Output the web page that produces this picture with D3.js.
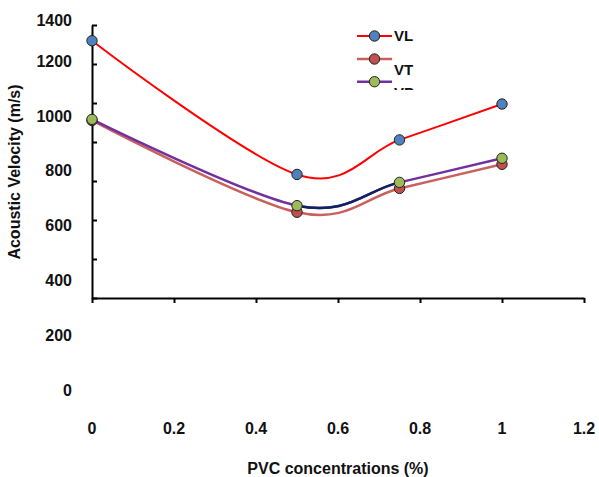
<!DOCTYPE html>
<html>
<head>
<meta charset="utf-8">
<script src="https://cdn.jsdelivr.net/npm/d3@7"></script>
<style>
  body { margin: 0; background: #fff; }
  text { font-family: "Liberation Sans", Arial, sans-serif; font-weight: bold; fill: #111; }
</style>
</head>
<body>
<div id="chart"></div>
<script>
const width = 599, height = 477;

// data
const concentrations = [0, 0.5, 0.75, 1];
const vl = [1274, 786, 912, 1043];
const vt = [983, 648, 735, 823];
const vp = [987, 672, 757, 845];
const yTickLabels = [0, 200, 400, 600, 800, 1000, 1200, 1400];
const xTickLabels = [0, 0.2, 0.4, 0.6, 0.8, 1, 1.2];

const series = [
  {name: "VL", values: vl, line: "#ff0000", fill: "#4f81bd", width: 2},
  {name: "VT", values: vt, line: "#c9605d", fill: "#c0504d", width: 2.5},
  {name: "VP", values: vp, line: "#7030a0", fill: "#9bbb59", width: 2.5}
];

const svg = d3.select("#chart").append("svg")
  .attr("width", width)
  .attr("height", height);

const x = d3.scaleLinear().domain([0, 1.2]).range([92, 584]);
// value scale (matches the printed labels)
const y = d3.scaleLinear().domain([0, 1400]).range([389.8, 6.2]);
// axis frame with its tick marks
const yFrame = d3.scaleLinear().domain([0, 1400]).range([298, 25]);

// y axis line + inner ticks
svg.append("g")
  .attr("transform", "translate(" + x(0) + ",0)")
  .call(d3.axisRight(yFrame).tickValues(yTickLabels).tickSize(5).tickFormat("").tickSizeOuter(0))
  .call(g => g.selectAll("path,line").attr("stroke", "#000").attr("stroke-width", 2));

// x axis line + ticks
svg.append("g")
  .attr("transform", "translate(0," + yFrame(0) + ")")
  .call(d3.axisBottom(x).tickValues(xTickLabels).tickSize(5).tickFormat("").tickSizeOuter(0))
  .call(g => g.selectAll("path,line").attr("stroke", "#000").attr("stroke-width", 2));

// y labels
svg.append("g").selectAll("text")
  .data(yTickLabels)
  .join("text")
  .attr("x", 72)
  .attr("y", d => Math.max(y(d), 20.5))
  .attr("dy", "0.36em")
  .attr("text-anchor", "end")
  .style("font-size", "16px")
  .text(d => d);

// x labels
svg.append("g").selectAll("text")
  .data(xTickLabels)
  .join("text")
  .attr("x", d => x(d))
  .attr("y", 434)
  .attr("text-anchor", "middle")
  .style("font-size", "16px")
  .text(d => d);

svg.append("text")
  .attr("x", x(0.6))
  .attr("y", 474)
  .attr("text-anchor", "middle")
  .style("font-size", "16px")
  .text("PVC concentrations (%)");

svg.append("text")
  .attr("transform", "translate(20,172) rotate(-90)")
  .attr("text-anchor", "middle")
  .style("font-size", "16px")
  .text("Acoustic Velocity (m/s)");

const line = d3.line()
  .x((d, i) => x(concentrations[i]))
  .y(d => y(d))
  .curve(d3.curveCardinal.tension(0));

svg.append("clipPath").attr("id", "mid")
  .append("rect")
  .attr("x", x(0.5)).attr("y", 0)
  .attr("width", x(0.75) - x(0.5)).attr("height", height);

// VT first, then VP, then VL on top
[series[1], series[2], series[0]].forEach(s => {
  svg.append("path")
    .attr("d", line(s.values))
    .attr("fill", "none")
    .attr("stroke", s.line)
    .attr("stroke-width", s.width);
  if (s.name === "VP") {
    // this piece of VP is drawn dark blue in the original
    svg.append("path")
      .attr("d", line(s.values))
      .attr("clip-path", "url(#mid)")
      .attr("fill", "none")
      .attr("stroke", "#0f2360")
      .attr("stroke-width", s.width);
  }
});

[series[1], series[2], series[0]].forEach(s => {
  svg.append("g").selectAll("circle")
    .data(s.values)
    .join("circle")
    .attr("cx", (d, i) => x(concentrations[i]))
    .attr("cy", d => y(d))
    .attr("r", 5.2)
    .attr("fill", s.fill)
    .attr("stroke", "#222")
    .attr("stroke-width", 1);
});

// legend
const legend = svg.append("g");
svg.append("clipPath").attr("id", "legclip")
  .append("rect").attr("x", 350).attr("y", 20).attr("width", 80).attr("height", 70);

const rowY = [36, 59, 81.7];
const textY = [36, 70, 93];
series.forEach((s, i) => {
  legend.append("line")
    .attr("x1", 357).attr("x2", 392)
    .attr("y1", rowY[i]).attr("y2", rowY[i])
    .attr("stroke", s.line).attr("stroke-width", s.width);
  legend.append("circle")
    .attr("cx", 374.5).attr("cy", rowY[i]).attr("r", 5.2)
    .attr("fill", s.fill).attr("stroke", "#222").attr("stroke-width", 1);
  legend.append("text")
    .attr("x", 394).attr("y", textY[i]).attr("dy", "0.36em")
    .attr("clip-path", "url(#legclip)")
    .style("font-size", "15px")
    .text(s.name);
});
</script>
</body>
</html>
